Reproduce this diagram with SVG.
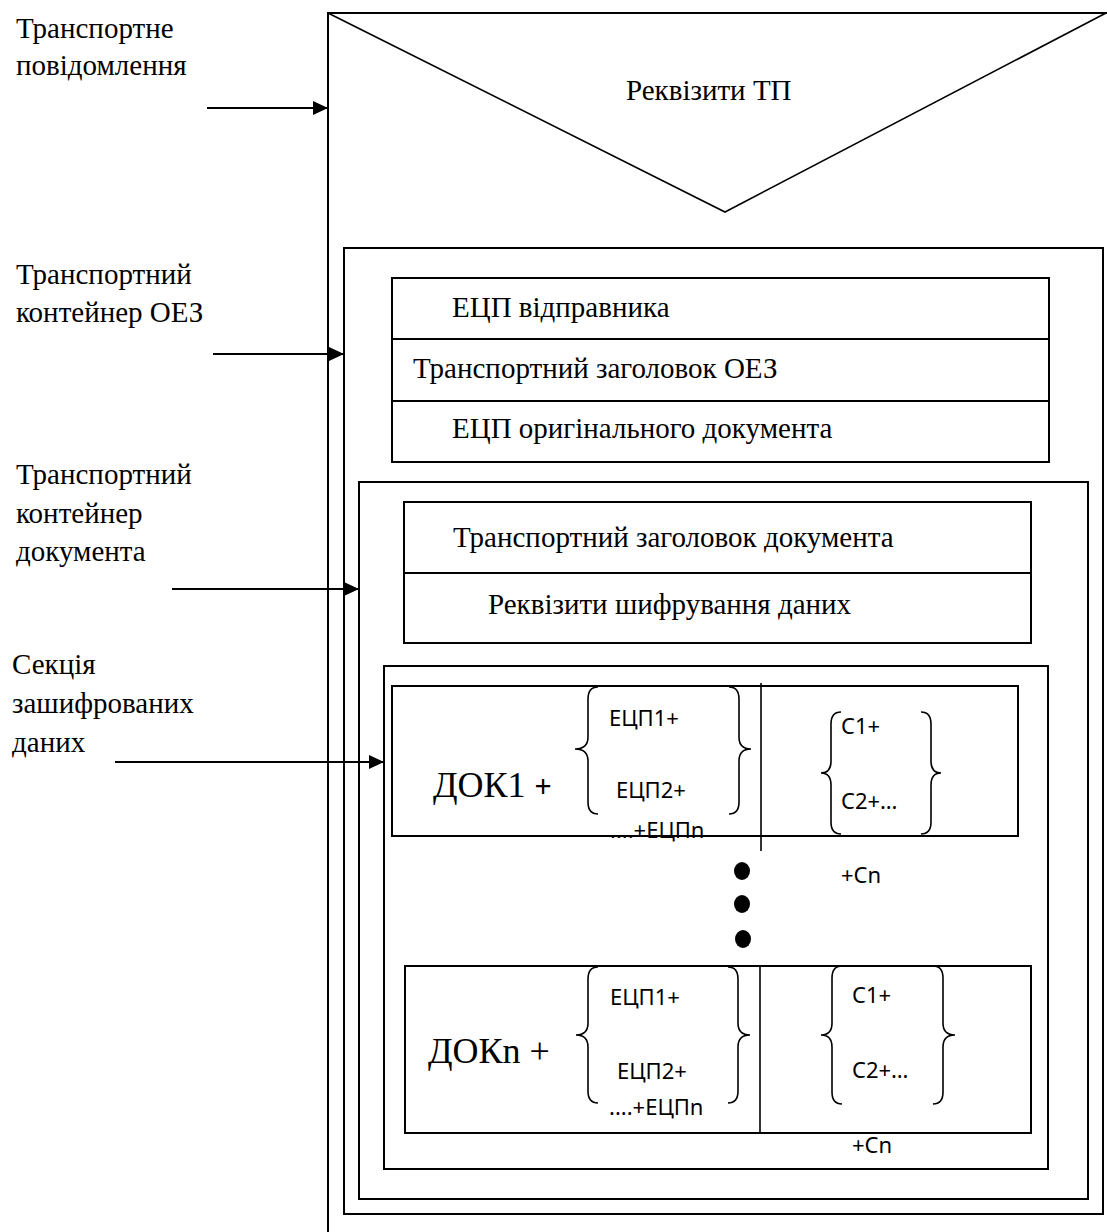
<svg xmlns="http://www.w3.org/2000/svg" width="1107" height="1232" viewBox="0 0 1107 1232">
<style>
.bx{fill:none;stroke:#000;stroke-width:2}
.ln{fill:none;stroke:#000;stroke-width:1.6}
.br{fill:none;stroke:#000;stroke-width:1.6}
.t{font-family:"Liberation Serif","Times New Roman",serif;font-size:29px;fill:#000}
.d{font-family:"Liberation Serif","Times New Roman",serif;font-size:36px;fill:#000}
.s{font-family:"Noto Sans","Liberation Sans",sans-serif;font-size:22px;fill:#000}
.c{stroke:#000;stroke-width:2;fill:none}
</style>
<defs>
<marker id="ah" markerUnits="userSpaceOnUse" markerWidth="15" markerHeight="14" refX="15" refY="7" orient="auto">
<path d="M0,0 L15,7 L0,14 z" fill="#000"/>
</marker>
</defs>
<rect width="1107" height="1232" fill="#fff"/>

<g id="message">
<rect class="bx" x="328" y="13" width="800" height="1240"/>
<polyline class="ln" points="328,13 725,212 1106,13"/>
<text class="t" x="626" y="100">Реквізити ТП</text>
</g>

<g id="oez-container">
<rect class="bx" x="344" y="248" width="759" height="966"/>
</g>

<g id="oez-header">
<rect class="bx" x="392" y="278" width="657" height="184"/>
<line class="bx" x1="392" y1="339" x2="1049" y2="339"/>
<line class="bx" x1="392" y1="401" x2="1049" y2="401"/>
<text class="t" x="452" y="317">ЕЦП відправника</text>
<text class="t" x="413" y="378">Транспортний заголовок ОЕЗ</text>
<text class="t" x="452" y="438">ЕЦП оригінального документа</text>
</g>

<g id="doc-container">
<rect class="bx" x="359" y="482" width="729" height="717"/>
</g>

<g id="doc-header">
<rect class="bx" x="404" y="502" width="627" height="141"/>
<line class="bx" x1="404" y1="573" x2="1031" y2="573"/>
<text class="t" x="453" y="547">Транспортний заголовок документа</text>
<text class="t" x="488" y="614">Реквізити шифрування даних</text>
</g>

<g id="encrypted-section">
<rect class="bx" x="384" y="666" width="664" height="503"/>
</g>

<g id="doc1">
<rect class="bx" x="392" y="686" width="626" height="150"/>
<line class="ln" x1="761" y1="683" x2="761" y2="851"/>
<text class="d" x="433" y="797">ДОК1 <tspan class="s" style="font-size:30px">+</tspan></text>
<path class="br" d="M598,687 Q588,687 588,699 L588,737 Q588,749 575,749 Q588,749 588,761 L588,802 Q588,814 598,814"/>
<path class="br" d="M729,687 Q739,687 739,699 L739,737 Q739,749 751,749 Q739,749 739,761 L739,802 Q739,814 729,814"/>
<text class="s" x="609" y="726">ЕЦП1+</text>
<text class="s" x="616" y="798">ЕЦП2+</text>
<text class="s" x="610" y="838">....+ЕЦПn</text>
<path class="br" d="M841,712 Q831,712 831,724 L831,761 Q831,773 821,773 Q831,773 831,785 L831,822 Q831,834 841,834"/>
<path class="br" d="M921,712 Q931,712 931,724 L931,761 Q931,773 941,773 Q931,773 931,785 L931,822 Q931,834 921,834"/>
<text class="s" x="841" y="734">C1+</text>
<text class="s" x="841" y="809">C2+…</text>
<text class="s" x="841" y="883">+Cn</text>
</g>

<g id="ellipsis">
<ellipse cx="742" cy="871" rx="8" ry="9" fill="#000"/>
<ellipse cx="742" cy="904" rx="8" ry="9" fill="#000"/>
<ellipse cx="743" cy="939" rx="8" ry="9" fill="#000"/>
</g>

<g id="docn">
<rect class="bx" x="405" y="966" width="626" height="167"/>
<line class="ln" x1="760" y1="966" x2="760" y2="1133"/>
<text class="d" x="428" y="1063">ДОКn +</text>
<path class="br" d="M598,967 Q588,967 588,979 L588,1023 Q588,1035 576,1035 Q588,1035 588,1047 L588,1091 Q588,1103 598,1103"/>
<path class="br" d="M728,967 Q738,967 738,979 L738,1023 Q738,1035 750,1035 Q738,1035 738,1047 L738,1091 Q738,1103 728,1103"/>
<text class="s" x="610" y="1005">ЕЦП1+</text>
<text class="s" x="617" y="1079">ЕЦП2+</text>
<text class="s" x="609" y="1115">....+ЕЦПn</text>
<path class="br" d="M842,966 Q832,966 832,978 L832,1023 Q832,1035 821,1035 Q832,1035 832,1047 L832,1092 Q832,1104 842,1104"/>
<path class="br" d="M933,966 Q943,966 943,978 L943,1023 Q943,1035 955,1035 Q943,1035 943,1047 L943,1092 Q943,1104 933,1104"/>
<text class="s" x="852" y="1003">C1+</text>
<text class="s" x="852" y="1078">C2+…</text>
<text class="s" x="852" y="1153">+Cn</text>
</g>

<g id="labels">
<text class="t" x="16" y="38">Транспортне</text>
<text class="t" x="16" y="75">повідомлення</text>
<text class="t" x="16" y="284">Транспортний</text>
<text class="t" x="16" y="322">контейнер ОЕЗ</text>
<text class="t" x="16" y="484">Транспортний</text>
<text class="t" x="16" y="523">контейнер</text>
<text class="t" x="16" y="561">документа</text>
<text class="t" x="12" y="674">Секція</text>
<text class="t" x="12" y="713">зашифрованих</text>
<text class="t" x="12" y="752">даних</text>
</g>

<g id="connectors">
<line class="c" x1="207" y1="108" x2="328" y2="108" marker-end="url(#ah)"/>
<line class="c" x1="213" y1="354" x2="344" y2="354" marker-end="url(#ah)"/>
<line class="c" x1="172" y1="589" x2="359" y2="589" marker-end="url(#ah)"/>
<line class="c" x1="115" y1="762" x2="384" y2="762" marker-end="url(#ah)"/>
</g>
</svg>
